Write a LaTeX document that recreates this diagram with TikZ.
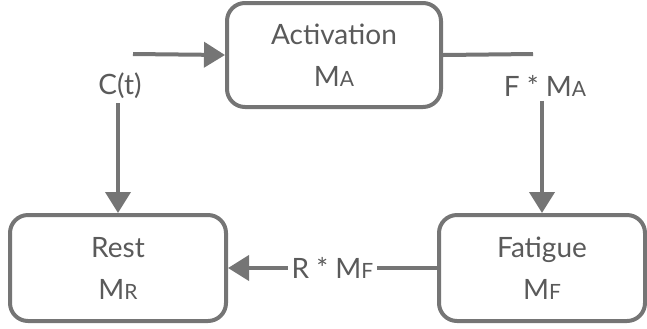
\documentclass[tikz,border=0pt]{standalone}
\usepackage{fontspec}
\setmainfont{Lato}
\usetikzlibrary{arrows.meta, positioning}
\definecolor{linegray}{HTML}{757575}
\definecolor{textgray}{HTML}{5a5a5a}
\newcommand{\msub}[1]{{\fontsize{10.5}{12}\selectfont #1}}

\begin{document}
\begin{tikzpicture}[x=0.5pt, y=-0.5pt,
    stage/.style={draw=linegray, line width=2pt, rounded corners=9pt, fill=white, text=textgray, align=center, font=\fontsize{14}{21}\selectfont},
    rate/.style={text=textgray, fill=white, inner sep=2pt, font=\fontsize{14}{17}\selectfont},
    arr/.style={draw=linegray, line width=2pt, -{Triangle[length=10.5pt, width=12.5pt]}},
    lin/.style={draw=linegray, line width=2pt}]
    \useasboundingbox (0,0) rectangle (647,328);
    \node[stage, minimum width=107pt, minimum height=52pt] (act) at (334,55) {Activation\\M\msub{A}};
    \node[stage, minimum width=108pt, minimum height=53pt] (rest) at (118,268) {Rest\\M\msub{R}};
    \node[stage, minimum width=103pt, minimum height=53pt] (fat) at (542,268) {Fatigue\\M\msub{F}};
    \node[rate] (ct) at (120,86) {C(t)};
    \node[rate] (fm) at (545,86) {F * M\msub{A}};
    \coordinate (cin) at (133,54);
    \coordinate (fout) at (533,54);
    \draw[arr] (cin) -- (act.west);
    \draw[arr] (ct.south -| rest.north) -- (rest.north);
    \draw[lin] (act.east) -- (fout);
    \draw[arr] (fm.south -| fat.north) -- (fat.north);
    \draw[arr] (fat.west) -- node[rate] {R * M\msub{F}} (rest.east);
\end{tikzpicture}
\end{document}
